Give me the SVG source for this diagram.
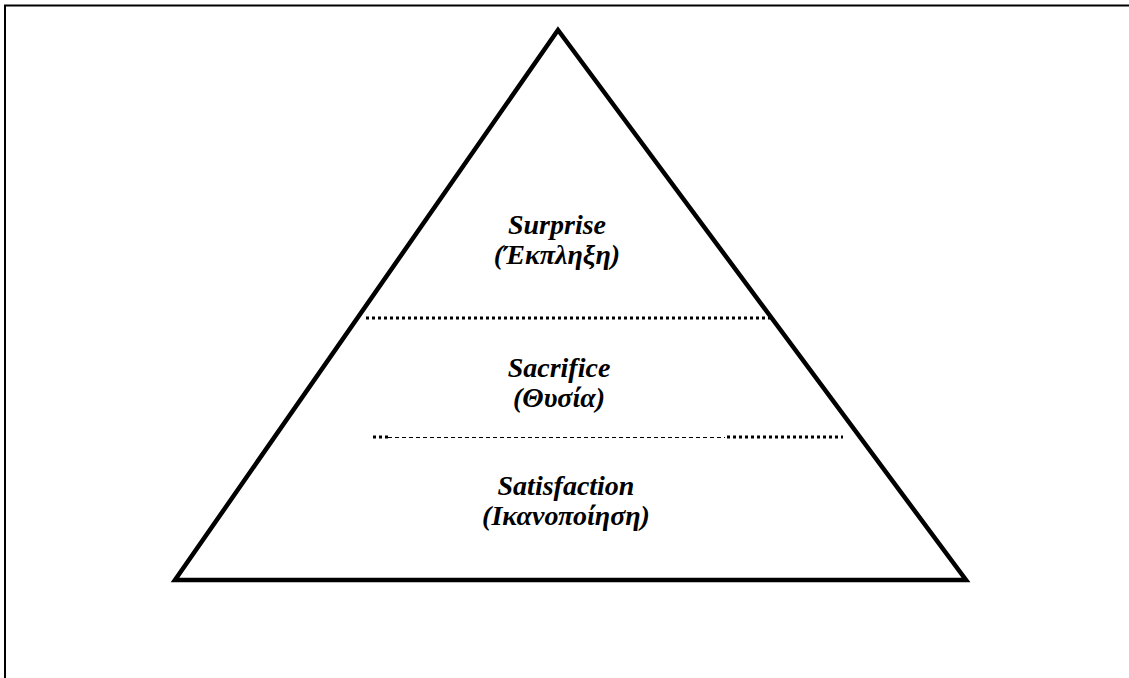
<svg xmlns="http://www.w3.org/2000/svg" width="1129" height="678" viewBox="0 0 1129 678">
<style>
.frame{fill:none;stroke:#000;stroke-width:2}
.tri{fill:none;stroke:#000;stroke-width:4.5;stroke-linejoin:miter}
.dot{stroke:#000;stroke-width:3;stroke-dasharray:3 3}
.dash{stroke:#000;stroke-width:1;stroke-dasharray:4 3}
</style>
<rect width="1129" height="678" fill="#fff"/>
<path class="frame" d="M5,678 V5.5 H1129"/>
<g id="pyramid">
<path class="tri" d="M558,30 L175,580 H966 Z"/>
</g>
<g id="connectors">
<line class="dot" x1="366" y1="318" x2="770" y2="318"/>
<line class="dot" x1="373" y1="437" x2="388" y2="437"/>
<line class="dash" x1="388" y1="437.5" x2="725" y2="437.5"/>
<line class="dot" x1="727" y1="437" x2="843" y2="437"/>
</g>
<g font-family="Liberation Serif, Times New Roman, serif" font-weight="700" font-style="italic" font-size="28" text-anchor="middle" fill="#000">
<g id="surprise">
<text x="557" y="234">Surprise</text>
<text x="557" y="264">(Έκπληξη)</text>
</g>
<g id="sacrifice">
<text x="559" y="377">Sacrifice</text>
<text x="559" y="407">(Θυσία)</text>
</g>
<g id="satisfaction">
<text x="566" y="495">Satisfaction</text>
<text x="566" y="525">(Ικανοποίηση)</text>
</g>
</g>
</svg>
